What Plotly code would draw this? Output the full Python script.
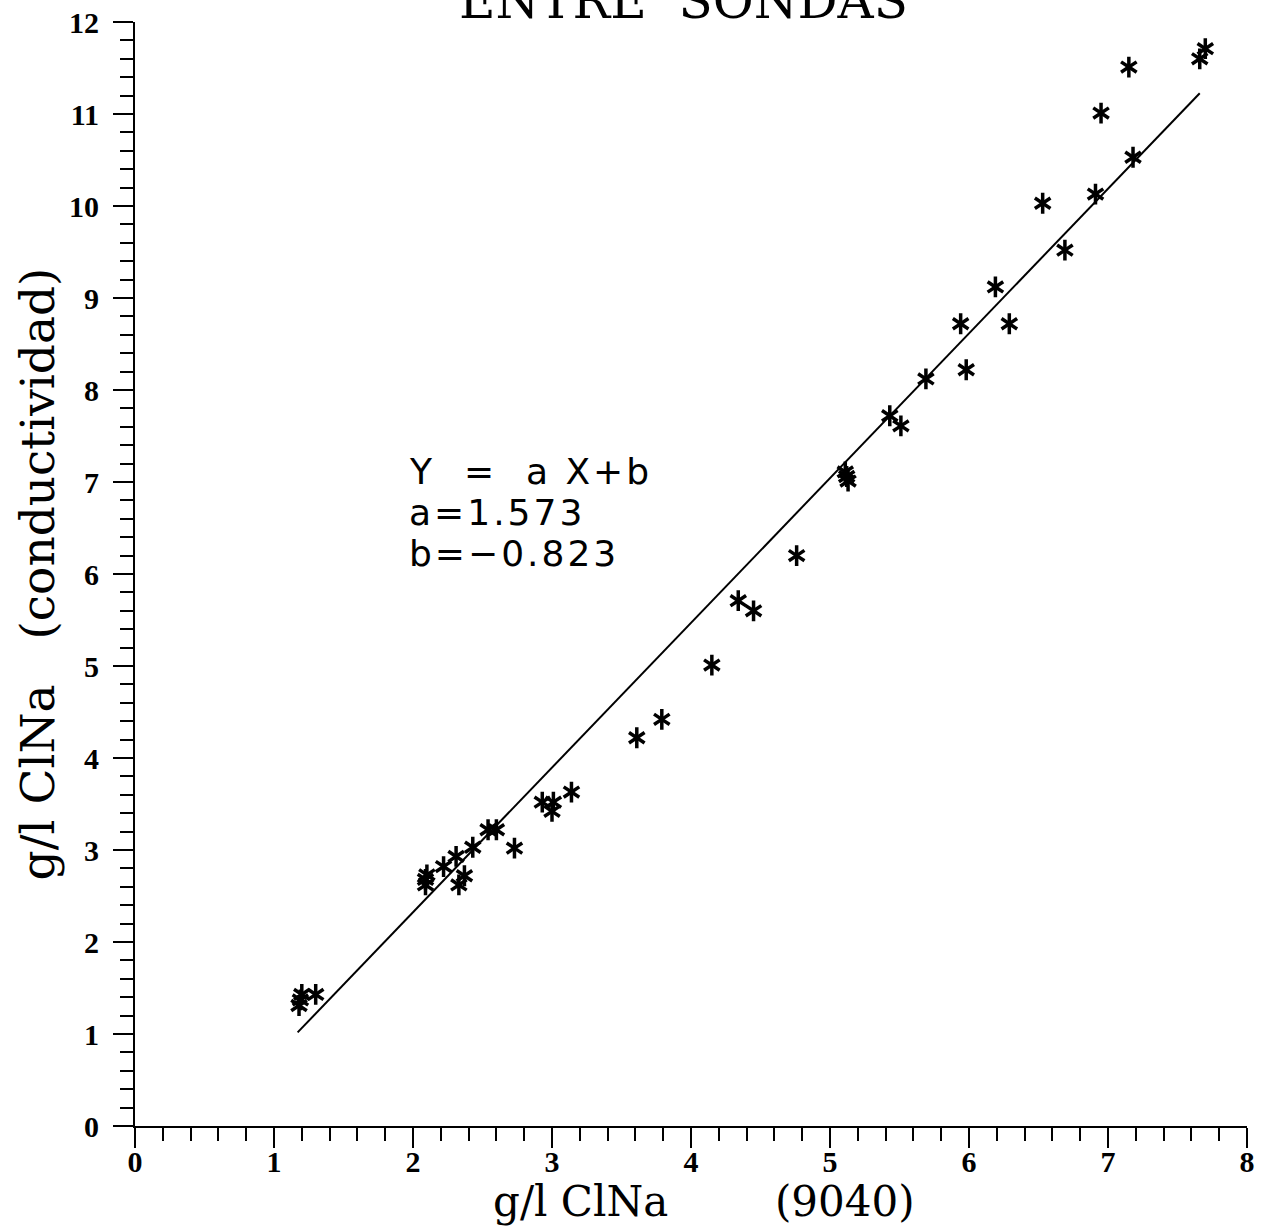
import plotly.graph_objects as go

# Salinity (g/l NaCl): laboratory 9040 reading vs. conductivity probe
x_9040 = [1.18, 1.19, 1.20, 1.30, 2.09, 2.09, 2.10, 2.22, 2.31, 2.33, 2.37,
          2.43, 2.54, 2.60, 2.73, 2.93, 3.01, 3.00, 3.14, 3.61, 3.79, 4.15,
          4.34, 4.45, 4.76, 5.11, 5.12, 5.13, 5.43, 5.51, 5.69, 5.94, 5.98,
          6.19, 6.29, 6.53, 6.69, 6.91, 6.95, 7.18, 7.15, 7.66, 7.70]
y_cond = [1.31, 1.37, 1.43, 1.43, 2.62, 2.68, 2.73, 2.82, 2.93, 2.62, 2.72,
          3.03, 3.22, 3.22, 3.02, 3.52, 3.52, 3.42, 3.63, 4.22, 4.42, 5.01,
          5.71, 5.60, 6.20, 7.11, 7.06, 7.01, 7.72, 7.61, 8.12, 8.72, 8.22,
          9.12, 8.72, 10.03, 9.52, 10.13, 11.01, 10.53, 11.51, 11.60, 11.71]

# Linear fit Y = a X + b and the x span it is drawn over
fit_a = 1.573
fit_b = -0.823
fit_x = [1.17, 7.66]
fit_y = [fit_a * v + fit_b for v in fit_x]

x_ticks = [0, 1, 2, 3, 4, 5, 6, 7, 8]
y_ticks = [0, 1, 2, 3, 4, 5, 6, 7, 8, 9, 10, 11, 12]

SERIF = "DejaVu Serif"
TICK_FONT = dict(family="Liberation Serif", size=30, color="black", weight="bold")

fig = go.Figure()

fig.add_trace(go.Scatter(x=fit_x, y=fit_y, mode="lines",
                         line=dict(color="black", width=2), hoverinfo="skip"))

# six-pointed asterisk: an upward Y overlaid with a downward Y
for sym in ("y-up-open", "y-down-open"):
    fig.add_trace(go.Scatter(
        x=x_9040, y=y_cond, mode="markers",
        marker=dict(symbol=sym, size=13, color="black",
                    line=dict(color="black", width=3.5)),
    ))

axis_common = dict(
    showline=True, linecolor="black", linewidth=2,
    ticks="outside", ticklen=20, tickwidth=2, tickcolor="black",
    showgrid=False, zeroline=False, automargin=False,
    tickfont=TICK_FONT,
    minor=dict(dtick=0.2, ticks="outside", ticklen=13, tickwidth=1.5,
               tickcolor="black", showgrid=False),
)

fig.update_xaxes(range=[0, 8], tickvals=x_ticks, ticktext=[str(v) for v in x_ticks],
                 ticklabelstandoff=-12, **axis_common)
fig.update_yaxes(range=[0, 12], tickvals=y_ticks, ticktext=[str(v) for v in y_ticks],
                 ticklabelstandoff=8,
                 title=dict(text="g/l ClNa   (conductividad)",
                            font=dict(family=SERIF, size=47, color="black"),
                            standoff=0),
                 **axis_common)

# x-axis caption, set just under the tick numbers
fig.add_annotation(
    x=0.5117, y=0, xref="paper", yref="paper", xanchor="center", yanchor="top",
    yshift=-49, text="g/l ClNa        (9040)", showarrow=False,
    font=dict(family=SERIF, size=42, color="black"),
)

# fit equation
eq_lines = ["Y  =  a X+b", f"a={fit_a:.3f}", "b=\u2212" + f"{abs(fit_b):.3f}"]
eq_y = [7.11, 6.67, 6.22]
for txt, yy in zip(eq_lines, eq_y):
    fig.add_annotation(
        x=1.957, y=yy, xref="x", yref="y", xanchor="left", yanchor="middle",
        text=f'<span style="letter-spacing:3px">{txt}</span>',
        showarrow=False, font=dict(family="DejaVu Sans", size=36, color="black"),
    )

# chart heading
fig.add_annotation(
    x=0.4937, y=1, xref="paper", yref="paper", xanchor="center", yanchor="bottom",
    yshift=-10, text="ENTRE  SONDAS", showarrow=False,
    font=dict(family=SERIF, size=50, color="black"),
)

fig.update_layout(
    width=1261, height=1228,
    margin=dict(l=135, r=14, t=22, b=102, autoexpand=False),
    plot_bgcolor="white", paper_bgcolor="white",
    showlegend=False,
)

fig.write_html("out.html")
